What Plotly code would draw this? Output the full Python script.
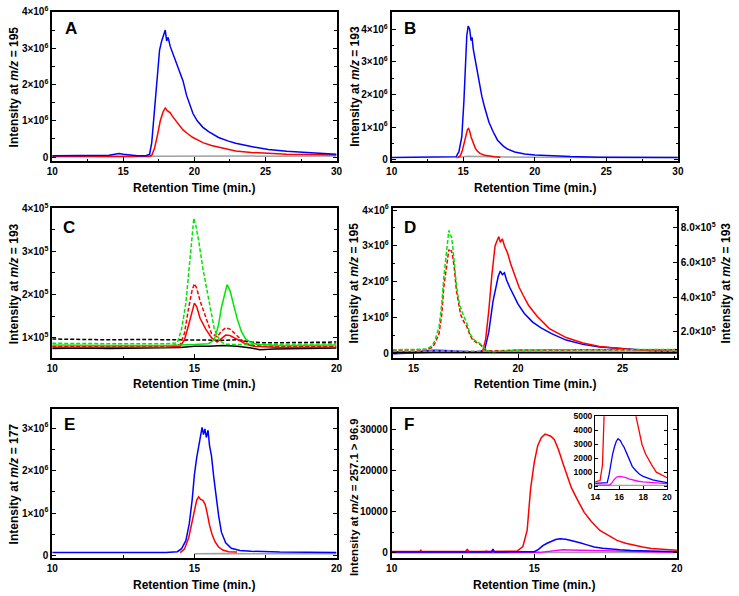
import plotly.graph_objects as go

W, H = 739, 596
FONT = "Liberation Sans, Arial, Helvetica, sans-serif"

BLUE = "#0000FF"
RED = "#FF0000"
GREEN = "#00E600"
GRAY = "#A0A0A0"
BLACK = "#000000"
MAGENTA = "#FF00FF"

# ---------------- Panel A (x: min, y: x10^6) ----------------
a_blue_t = [10, 11, 12, 13, 14, 14.4, 14.7, 15.0, 15.5, 16, 16.6, 16.85, 17.0, 17.2, 17.4, 17.55, 17.7, 17.85,
            17.95, 18.05, 18.15, 18.3, 18.5, 18.7, 19.0, 19.2, 19.45, 19.7, 19.9, 20.2, 20.6, 21.0, 21.7, 22.4,
            22.9, 24, 25.2, 26.5, 27.5, 28.5, 30]
a_blue_y = [0.04, 0.04, 0.04, 0.04, 0.05, 0.08, 0.1, 0.08, 0.05, 0.04, 0.04, 0.08, 0.4, 1.3, 2.4, 2.95, 3.2, 3.35,
            3.5, 3.2, 3.3, 3.05, 2.85, 2.6, 2.33, 2.1, 1.7, 1.45, 1.2, 1.0, 0.82, 0.7, 0.54, 0.44,
            0.38, 0.29, 0.21, 0.16, 0.13, 0.11, 0.08]
a_red_t = [10, 16.8, 17.0, 17.2, 17.4, 17.6, 17.8, 17.95, 18.1, 18.3, 18.5, 18.75, 19.0, 19.2, 19.5, 19.9, 20.3,
           20.6, 21.2, 21.7, 22.3, 22.9, 24, 25.2, 26.5, 28, 30]
a_red_y = [0.02, 0.02, 0.05, 0.25, 0.6, 1.0, 1.25, 1.35, 1.28, 1.22, 1.1, 0.97, 0.85, 0.75, 0.65, 0.54, 0.46,
           0.4, 0.32, 0.27, 0.21, 0.17, 0.13, 0.1, 0.08, 0.07, 0.06]
a_gray_t = [10, 17, 20, 25, 30]
a_gray_y = [0.02, 0.03, 0.03, 0.03, 0.03]

# ---------------- Panel B (x: min, y: x10^6) ----------------
b_blue_t = [10, 12, 14, 14.5, 14.7, 14.9, 15.05, 15.15, 15.25, 15.35, 15.45, 15.55, 15.62, 15.7, 15.8, 15.95,
            16.1, 16.3, 16.5, 16.8, 17.1, 17.4, 17.8, 18.1, 18.6, 19.3, 20, 21.1, 22.5, 24.5, 27, 30]
b_blue_y = [0.07, 0.07, 0.07, 0.09, 0.25, 0.7, 1.8, 3.0, 3.8, 4.1, 4.0, 3.65, 3.75, 3.4, 3.15, 2.7,
            2.35, 1.95, 1.6, 1.15, 0.85, 0.6, 0.42, 0.33, 0.24, 0.18, 0.15, 0.12, 0.1, 0.08, 0.07, 0.07]
b_red_t = [14.6, 14.8, 14.95, 15.1, 15.2, 15.3, 15.38, 15.45, 15.55, 15.7, 15.85, 16.0, 16.2, 16.5, 16.8, 17.2, 17.6]
b_red_y = [0.07, 0.12, 0.3, 0.58, 0.8, 0.93, 0.96, 0.88, 0.7, 0.5, 0.35, 0.26, 0.19, 0.14, 0.11, 0.09, 0.08]
b_gray_t = [14.5, 15, 15.3, 16, 17, 18, 20, 25, 30]
b_gray_y = [0.06, 0.09, 0.11, 0.1, 0.09, 0.08, 0.08, 0.07, 0.07]

# ---------------- Panel C (x: min, y: x10^5) ----------------
c_kd_t = [10, 11, 12, 13, 14, 14.5, 15, 15.5, 16, 16.5, 17, 17.5, 18, 19, 20]
c_kd_y = [0.97, 0.96, 0.95, 0.96, 0.95, 0.94, 0.95, 0.93, 0.94, 0.95, 0.9, 0.88, 0.88, 0.89, 0.9]
c_ks_t = [10, 11, 12, 13, 14, 14.5, 15, 15.5, 16, 16.5, 17, 17.3, 17.8, 18.5, 19, 20]
c_ks_y = [0.75, 0.76, 0.75, 0.76, 0.76, 0.77, 0.8, 0.8, 0.82, 0.8, 0.76, 0.72, 0.74, 0.75, 0.75, 0.76]
c_r_t = [10, 11, 12, 13, 14, 14.5, 14.65, 14.8, 14.92, 15.0, 15.08, 15.2, 15.4, 15.6, 15.8, 15.95, 16.1,
         16.25, 16.45, 16.65, 16.85, 17.1, 17.5, 18, 19, 20]
c_rs_y = [0.78, 0.78, 0.77, 0.78, 0.78, 0.8, 0.95, 1.3, 1.62, 1.8, 1.72, 1.45, 1.2, 1.0, 0.9, 0.98, 1.06,
          1.05, 0.98, 0.9, 0.84, 0.8, 0.78, 0.77, 0.78, 0.78]
c_rd_y = [0.8, 0.8, 0.79, 0.8, 0.8, 0.84, 1.1, 1.7, 2.1, 2.25, 2.15, 1.85, 1.45, 1.1, 1.02, 1.15, 1.23,
          1.2, 1.08, 0.95, 0.86, 0.82, 0.8, 0.8, 0.8, 0.8]
c_gd_t = [10, 11, 12, 13, 14, 14.4, 14.55, 14.7, 14.82, 14.92, 14.98, 15.05, 15.15, 15.3, 15.5, 15.7, 15.9,
          16.1, 16.5, 17, 18, 19, 20]
c_gd_y = [0.87, 0.86, 0.86, 0.86, 0.86, 0.88, 1.2, 1.8, 2.7, 3.5, 3.77, 3.6, 3.25, 2.6, 1.85, 1.2, 0.92,
          0.85, 0.84, 0.85, 0.85, 0.86, 0.86]
c_gs_t = [10, 11, 12, 13, 14, 15, 15.5, 15.7, 15.85, 15.95, 16.05, 16.15, 16.25, 16.35, 16.5, 16.65, 16.8,
          17.0, 17.3, 18, 19, 20]
c_gs_y = [0.83, 0.82, 0.82, 0.82, 0.82, 0.84, 0.86, 0.95, 1.3, 1.7, 2.0, 2.23, 2.1, 1.85, 1.45, 1.15, 0.97,
          0.88, 0.84, 0.82, 0.83, 0.83]

# ---------------- Panel D (left: x10^6, right: x10^5) ----------------
d_rs_t = [14, 15, 16, 17, 18, 18.3, 18.45, 18.6, 18.75, 18.9, 19.0, 19.08, 19.15, 19.25, 19.35, 19.5, 19.65,
          19.85, 20.05, 20.25, 20.5, 20.9, 21.5, 22.3, 23.1, 23.9, 24.7, 25.5, 26.5, 27.6]
d_rs_y = [0.03, 0.02, 0.04, 0.05, 0.05, 0.06, 0.4, 1.2, 2.2, 3.0, 3.15, 3.26, 3.1, 3.2, 3.0, 2.8, 2.5,
          2.15, 1.85, 1.62, 1.35, 1.05, 0.7, 0.45, 0.3, 0.2, 0.15, 0.11, 0.08, 0.06]
d_bs_t = [14, 15, 15.5, 16, 16.5, 17, 17.5, 18, 18.4, 18.6, 18.8, 18.95, 19.05, 19.15, 19.25, 19.35, 19.45,
          19.6, 19.8, 20.0, 20.3, 20.7, 21.1, 21.6, 22.3, 23.1, 23.9, 24.7, 25.5, 26.5, 27.6]
d_bs_y = [0.0, 0.02, 0.08, 0.1, 0.09, 0.08, 0.06, 0.05, 0.1, 0.6, 1.45, 1.9, 2.15, 2.3, 2.2, 2.25, 2.05,
          1.85, 1.6, 1.38, 1.12, 0.88, 0.72, 0.56, 0.38, 0.26, 0.19, 0.15, 0.12, 0.08, 0.05]
d_ks_t = [14, 16, 18, 20, 22, 24, 26, 27.6]
d_ks_y = [0.04, 0.04, 0.04, 0.03, 0.03, 0.03, 0.03, 0.03]
d_dash_t = [14, 15, 15.6, 15.9, 16.05, 16.22, 16.35, 16.45, 16.58, 16.69, 16.75, 16.81, 16.88, 16.95, 17.05,
            17.15, 17.25, 17.4, 17.55, 17.7, 17.85, 18.0, 18.15, 18.3, 18.45, 18.7, 19, 20, 22, 24, 26, 27.6]
d_gd_y = [0.97, 0.98, 1.0, 1.2, 1.6, 2.3, 3.6, 5.2, 6.8, 7.85, 7.6, 7.5, 6.9, 6.0, 4.7,
          3.9, 3.4, 2.9, 2.5, 1.9, 1.6, 1.45, 1.35, 1.2, 0.95, 0.85, 0.88, 0.95, 0.97, 0.97, 0.98, 0.98]
d_rd_y = [0.95, 0.96, 0.98, 1.1, 1.4, 1.9, 3.0, 4.6, 5.9, 6.75, 6.6, 6.7, 6.3, 5.7, 4.4,
          3.6, 3.0, 2.6, 2.3, 1.8, 1.5, 1.4, 1.3, 1.15, 0.95, 0.9, 0.92, 0.95, 0.96, 0.97, 0.97, 0.97]
d_kd_t = [14, 16, 18, 20, 22, 24, 26, 27.6]
d_kd_y = [0.9, 0.92, 0.9, 0.9, 0.91, 0.9, 0.9, 0.9]

# ---------------- Panel E (x10^6) ----------------
e_blue_t = [10, 12, 14, 14.4, 14.55, 14.7, 14.82, 14.92, 15.0, 15.08, 15.15, 15.22, 15.27, 15.32, 15.37, 15.42,
            15.48, 15.53, 15.6, 15.68, 15.76, 15.85, 15.95, 16.1, 16.3, 16.6, 17, 18, 20]
e_blue_y = [0.07, 0.07, 0.07, 0.09, 0.16, 0.35, 0.75, 1.3, 1.9, 2.3, 2.6, 2.85, 3.02, 2.85, 2.98, 2.78,
            2.95, 2.6, 2.35, 1.85, 1.35, 0.95, 0.55, 0.3, 0.17, 0.12, 0.1, 0.08, 0.07]
e_red_t = [14.5, 14.65, 14.8, 14.9, 15.0, 15.08, 15.15, 15.22, 15.3, 15.38, 15.45, 15.53, 15.62, 15.72, 15.85,
           16.0, 16.2, 16.5]
e_red_y = [0.07, 0.15, 0.42, 0.75, 1.1, 1.3, 1.38, 1.32, 1.3, 1.2, 1.0, 0.72, 0.5, 0.33, 0.2,
           0.13, 0.09, 0.08]
e_gray_t = [15, 16, 17, 18, 20]
e_gray_y = [0.04, 0.05, 0.04, 0.04, 0.04]

# ---------------- Panel F (counts) ----------------
f_red_t = [10, 10.5, 11.0, 11.02, 11.05, 11.5, 12, 12.6, 12.65, 12.7, 13, 13.5, 14, 14.4, 14.6, 14.75, 14.87,
           15.0, 15.12, 15.25, 15.38, 15.47, 15.58, 15.7, 15.85, 16.0, 16.15, 16.3, 16.5, 16.75, 17.0, 17.3,
           17.6, 17.9, 18.2, 18.5, 18.8, 19.1, 19.5, 20]
f_red_y = [300, 300, 300, 700, 300, 300, 300, 300, 900, 300, 300, 300, 300, 400, 1500, 5400, 15500,
           22000, 26000, 28000, 28800, 28600, 28300, 27500, 25000, 21800, 18500, 15800, 13000, 9800, 7600, 5400,
           4200, 3000, 2300, 1800, 1400, 1000, 800, 600]
f_blue_t = [10, 11, 12, 13, 13.5, 13.55, 13.6, 14, 14.5, 15.0, 15.15, 15.3, 15.45, 15.6, 15.75, 15.9, 16.0,
            16.1, 16.25, 16.4, 16.6, 16.85, 17.1, 17.4, 17.7, 18.0, 18.4, 18.8, 19.2, 19.6, 20]
f_blue_y = [200, 200, 200, 200, 200, 900, 200, 200, 200, 250, 800, 1700, 2300, 2800, 3200, 3400, 3350,
            3250, 3000, 2800, 2400, 1900, 1400, 1100, 850, 700, 550, 450, 380, 300, 250]
f_mag_t = [10, 13.3, 13.32, 13.35, 15.2, 15.4, 15.6, 15.8, 16.0, 16.2, 16.5, 16.8, 17.2, 17.6, 18, 18.5, 19,
           19.5, 20]
f_mag_y = [50, 50, 500, 50, 80, 250, 500, 650, 700, 680, 620, 520, 420, 350, 300, 260, 220, 200, 180]
f_gray_t = [10, 15, 17, 20]
f_gray_y = [50, 60, 70, 60]

# ---------------- Tick labels ----------------
ticks_e6 = [0, 1, 2, 3, 4]
ticktext_e6 = ["0", "1×10<sup>6</sup>", "2×10<sup>6</sup>", "3×10<sup>6</sup>", "4×10<sup>6</sup>"]
ticks_e5 = [1, 2, 3, 4]
ticktext_e5 = ["1×10<sup>5</sup>", "2×10<sup>5</sup>", "3×10<sup>5</sup>", "4×10<sup>5</sup>"]
ticks_d_right = [2, 4, 6, 8]
ticktext_d_right = ["2.0×10<sup>5</sup>", "4.0×10<sup>5</sup>", "6.0×10<sup>5</sup>", "8.0×10<sup>5</sup>"]
ticks_e_panel = [0, 1, 2, 3]
ticktext_e_panel = ["0", "1×10<sup>6</sup>", "2×10<sup>6</sup>", "3×10<sup>6</sup>"]
ticks_f = [0, 10000, 20000, 30000]
ticks_inset_y = [0, 1000, 2000, 3000, 4000, 5000]
ticks_inset_x = [14, 16, 18, 20]

fig = go.Figure()


def add(t, y, color, xa, ya, dash=None, width=1.5):
    fig.add_trace(go.Scatter(x=t, y=y, mode="lines", xaxis=xa, yaxis=ya,
                             line=dict(color=color, width=width, dash=dash), hoverinfo="skip"))


DASH = "4px,2px"

# A
add(a_gray_t, a_gray_y, GRAY, "x", "y")
add(a_red_t, a_red_y, RED, "x", "y")
add(a_blue_t, a_blue_y, BLUE, "x", "y")
# B
add(b_gray_t, b_gray_y, GRAY, "x2", "y2")
add(b_red_t, b_red_y, RED, "x2", "y2")
add(b_blue_t, b_blue_y, BLUE, "x2", "y2")
# C
add(c_kd_t, c_kd_y, BLACK, "x3", "y3", DASH)
add(c_ks_t, c_ks_y, BLACK, "x3", "y3")
add(c_r_t, c_rs_y, RED, "x3", "y3")
add(c_r_t, c_rd_y, RED, "x3", "y3", DASH)
add(c_gs_t, c_gs_y, GREEN, "x3", "y3")
add(c_gd_t, c_gd_y, GREEN, "x3", "y3", DASH)
# D
add(d_bs_t, d_bs_y, BLUE, "x4", "y4")
add(d_rs_t, d_rs_y, RED, "x4", "y4")
add(d_ks_t, d_ks_y, BLACK, "x4", "y4", None, 2)
add(d_kd_t, d_kd_y, GRAY, "x4", "y5", DASH)
add(d_dash_t, d_rd_y, RED, "x4", "y5", DASH)
add(d_dash_t, d_gd_y, GREEN, "x4", "y5", DASH)
# E
add(e_gray_t, e_gray_y, GRAY, "x6", "y6")
add(e_red_t, e_red_y, RED, "x6", "y6")
add(e_blue_t, e_blue_y, BLUE, "x6", "y6")
# F
add(f_gray_t, f_gray_y, GRAY, "x7", "y7")
add(f_mag_t, f_mag_y, MAGENTA, "x7", "y7")
add(f_red_t, f_red_y, RED, "x7", "y7")
add(f_blue_t, f_blue_y, BLUE, "x7", "y7")
# inset
add(f_gray_t, f_gray_y, GRAY, "x8", "y8", None, 1.3)
add(f_mag_t, f_mag_y, MAGENTA, "x8", "y8", None, 1.3)
add(f_red_t, f_red_y, RED, "x8", "y8", None, 1.3)
add(f_blue_t, f_blue_y, BLUE, "x8", "y8", None, 1.3)


def xd(a, b):
    return [a / W, b / W]


def yd(top, bottom):
    return [1 - bottom / H, 1 - top / H]


FRAME = 1.8


def xax(dom, rng, tickvals, anchor, minor_dtick, minor0, fontsize=10, ticklen=4):
    return dict(domain=dom, range=rng, anchor=anchor, tickmode="array", tickvals=tickvals,
                ticktext=[str(v) for v in tickvals],
                showline=True, linecolor="black", linewidth=FRAME, mirror=True,
                ticks="inside", ticklen=ticklen, tickwidth=1.2, tickcolor="black",
                showgrid=False, zeroline=False,
                tickfont=dict(family=FONT, size=fontsize, color="black", weight="bold"),
                minor=dict(ticks="inside", ticklen=2.5, tickwidth=1, tickcolor="black",
                           tickmode="linear", tick0=minor0, dtick=minor_dtick, showgrid=False))


def yax(dom, rng, tickvals, ticktext, anchor, minor_dtick, mirror="ticks", fontsize=10, ticklen=4, minor=True):
    d = dict(domain=dom, range=rng, anchor=anchor, tickmode="array", tickvals=tickvals, ticktext=ticktext,
             showline=True, linecolor="black", linewidth=FRAME, mirror=mirror,
             ticks="inside", ticklen=ticklen, tickwidth=1.2, tickcolor="black",
             showgrid=False, zeroline=False,
             tickfont=dict(family=FONT, size=fontsize, color="black", weight="bold"))
    if minor:
        d["minor"] = dict(ticks="inside", ticklen=2.5, tickwidth=1, tickcolor="black",
                          tickmode="linear", tick0=0, dtick=minor_dtick, showgrid=False)
    return d


PA = (47, 336, 5, 157)
PB = (392, 683, 5, 157)
PC = (47, 336, 205, 358)
PD = (393, 682, 205, 358)
PE = (47, 336, 410, 561)
PF = (392, 682, 410, 561)
PI = (599, 672, 417, 491)

layout = dict(
    width=W, height=H, margin=dict(l=0, r=0, t=0, b=0),
    plot_bgcolor="white", paper_bgcolor="white", showlegend=False,
    xaxis=xax(xd(PA[0], PA[1]), [10, 30], [10, 15, 20, 25, 30], "y", 2.5, 10),
    yaxis=yax(yd(PA[2], PA[3]), [-0.11, 4.0], ticks_e6, ticktext_e6, "x", 0.5),
    xaxis2=xax(xd(PB[0], PB[1]), [10, 30], [10, 15, 20, 25, 30], "y2", 2.5, 10),
    yaxis2=yax(yd(PB[2], PB[3]), [-0.04, 4.53], ticks_e6, ticktext_e6, "x2", 0.5),
    xaxis3=xax(xd(PC[0], PC[1]), [10, 20], [10, 15, 20], "y3", 2.5, 10),
    yaxis3=yax(yd(PC[2], PC[3]), [0.52, 4.0], ticks_e5, ticktext_e5, "x3", 0.5),
    xaxis4=xax(xd(PD[0], PD[1]), [14, 27.6], [15, 20, 25], "y4", 2.5, 10),
    yaxis4=yax(yd(PD[2], PD[3]), [-0.13, 4.05], ticks_e6, ticktext_e6, "x4", 0.5, mirror=False),
    yaxis5=dict(yax(yd(PD[2], PD[3]), [0.47, 9.13], ticks_d_right, ticktext_d_right, "x4", 1, mirror=False),
                overlaying="y4", side="right"),
    xaxis6=xax(xd(PE[0], PE[1]), [10, 20], [10, 15, 20], "y6", 2.5, 10),
    yaxis6=yax(yd(PE[2], PE[3]), [-0.05, 3.44], ticks_e_panel, ticktext_e_panel, "x6", 0.5),
    xaxis7=xax(xd(PF[0], PF[1]), [10, 20], [10, 15, 20], "y7", 2.5, 10),
    yaxis7=yax(yd(PF[2], PF[3]), [-1200, 34800], ticks_f, [str(v) for v in ticks_f], "x7", 5000),
    xaxis8=xax(xd(PI[0], PI[1]), [14, 20], ticks_inset_x, "y8", 1, 14, fontsize=8.5, ticklen=3),
    yaxis8=yax(yd(PI[2], PI[3]), [-200, 5000], ticks_inset_y, [str(v) for v in ticks_inset_y], "x8", 500,
               fontsize=8.5, ticklen=3, minor=False),
)
layout["xaxis8"]["minor"] = dict(ticks="")
layout["xaxis8"]["linewidth"] = 1.4
layout["yaxis8"]["linewidth"] = 1.4
fig.update_layout(**layout)

ann = []


def text(x, y, s, size, angle=0):
    ann.append(dict(x=x / W, y=1 - y / H, xref="paper", yref="paper", text=s, showarrow=False,
                    textangle=angle, xanchor="center", yanchor="middle",
                    font=dict(family=FONT, size=size, color="black", weight="bold")))


XT = "Retention Time (min.)"
for (x0, x1, t, b), ty in [(PA, 184), (PB, 184), (PC, 384), (PD, 384), (PE, 589), (PF, 589)]:
    text((x0 + x1) / 2, ty, XT, 12)

text(8, (PA[2] + PA[3]) / 2, "Intensity at <i>m/z</i> = 195", 12, -90)
text(354, (PB[2] + PB[3]) / 2, "Intensity at <i>m/z</i> = 193", 12, -90)
text(8, (PC[2] + PC[3]) / 2, "Intensity at <i>m/z</i> = 193", 12, -90)
text(354, (PD[2] + PD[3]) / 2, "Intensity at <i>m/z</i> = 195", 12, -90)
text(732, (PD[2] + PD[3]) / 2, "Intensity at <i>m/z</i> = 193", 12, -90)
text(8, (PE[2] + PE[3]) / 2, "Intensity at <i>m/z</i> = 177", 12, -90)
text(354, 499, "Intensity at <i>m/z</i> = 257.1 &gt; 96.9", 11.3, -90)

for lx, ly, s in [(66, 22, "A"), (411, 22, "B"), (64, 225, "C"), (411, 225, "D"), (65, 425, "E"), (410, 425, "F")]:
    text(lx, ly, s, 17)

fig.update_layout(annotations=ann)
fig.write_html("out.html")
